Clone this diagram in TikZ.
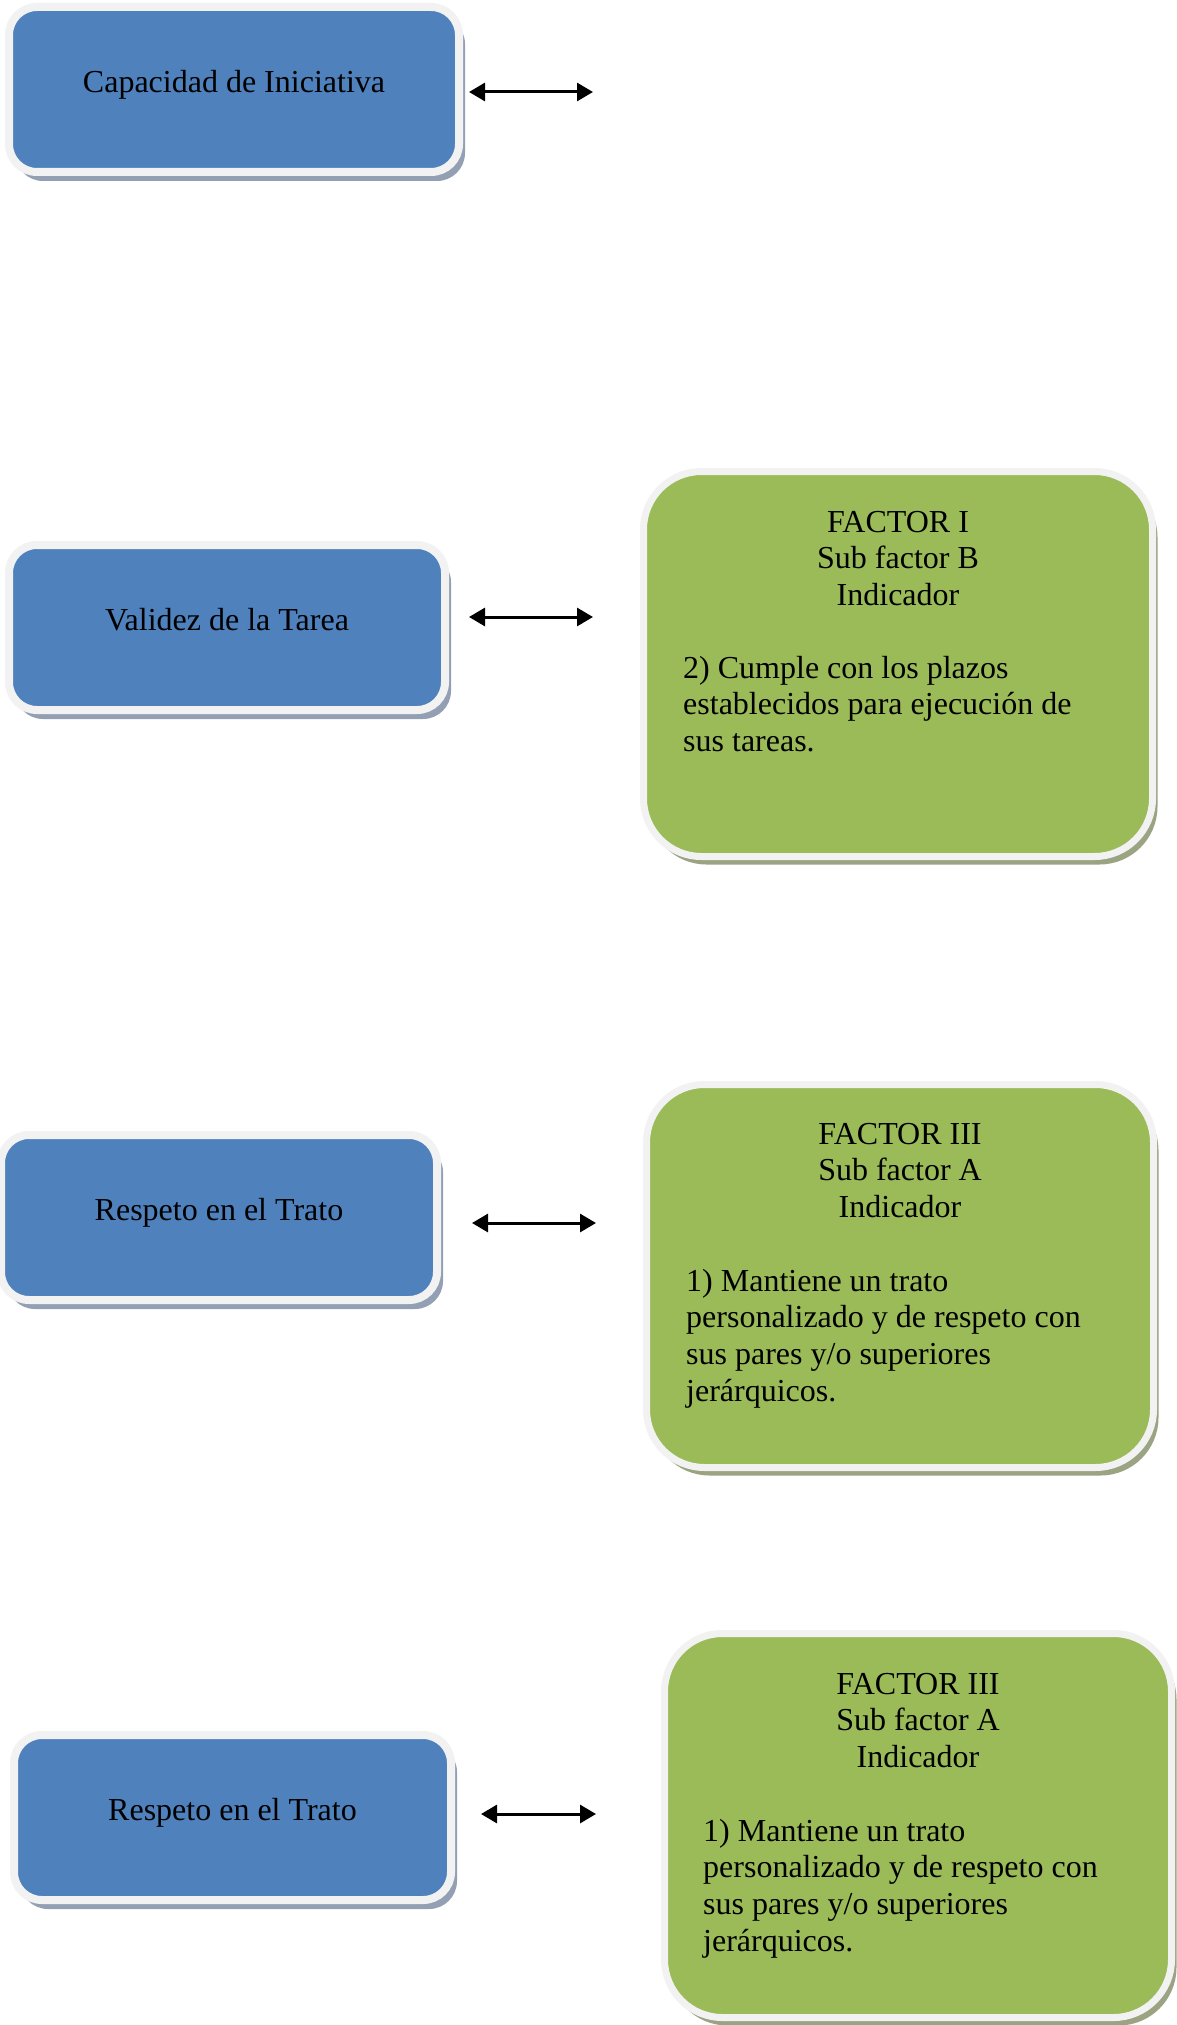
\documentclass[tikz,border=0pt]{standalone}
\usepackage{fontspec}
\setmainfont{Liberation Serif}
\usetikzlibrary{arrows.meta,shadows}
\definecolor{boxblue}{HTML}{4F81BD}
\definecolor{boxgreen}{HTML}{9BBB59}
\definecolor{rim}{HTML}{F2F2F2}
\definecolor{blueshade}{HTML}{93A0B4}
\definecolor{greenshade}{HTML}{9AA482}
\begin{document}
\begin{tikzpicture}[x=1pt,y=-1pt,
  bluebox/.style={rectangle, draw=rim, line width=8pt, fill=boxblue,
    rounded corners=28pt, inner sep=0pt, minimum height=165pt,
    drop shadow={shadow xshift=6pt, shadow yshift=-9pt, fill=blueshade, opacity=1}},
  greenbox/.style={rectangle, draw=rim, line width=7pt, fill=boxgreen,
    rounded corners=58pt, inner sep=0pt,
    drop shadow={shadow xshift=5pt, shadow yshift=-8pt, fill=greenshade, opacity=1}},
  lbl/.style={inner sep=0pt, font=\fontsize{32}{36.7}\selectfont},
  biarrow/.style={{Triangle[length=16pt,width=18pt]}-{Triangle[length=16pt,width=18pt]},
    line width=3pt}
]
% page frame
\useasboundingbox (0,0) rectangle (1177,2025);
\fill[white] (0,0) rectangle (1177,2025);

% left column: competences
\node[bluebox, minimum width=450pt] (b1) at (234,89.5) {};
\node[bluebox, minimum width=436pt] (b2) at (227,627.5) {};
\node[bluebox, minimum width=436pt] (b3) at (219,1217.5) {};
\node[bluebox, minimum width=437pt] (b4) at (232.5,1817.5) {};

\node[lbl, anchor=base] (t1) at ([yshift=-3pt]b1.center) {Capacidad de Iniciativa};
\node[lbl, anchor=base] (t2) at ([yshift=-3pt]b2.center) {Validez de la Tarea};
\node[lbl, anchor=base] (t3) at ([yshift=-3pt]b3.center) {Respeto en el Trato};
\node[lbl, anchor=base] (t4) at ([yshift=-3pt]b4.center) {Respeto en el Trato};

% right column: indicators
\node[greenbox, minimum width=509pt, minimum height=385pt] (g1) at (898,664) {};
\node[greenbox, minimum width=507pt, minimum height=383pt] (g2) at (900,1276) {};
\node[greenbox, minimum width=507pt, minimum height=384pt] (g3) at (918,1825.5) {};

\node[lbl, anchor=base] (g1h) at (898,532)
  {\begin{tabular}[t]{@{}c@{}}FACTOR I\\Sub factor B\\Indicador\end{tabular}};
\node[lbl, anchor=base west] (g1b) at (683,678)
  {\begin{tabular}[t]{@{}l@{}}2) Cumple con los plazos\\establecidos para ejecución de\\sus tareas.\end{tabular}};

\node[lbl, anchor=base] (g2h) at (900,1144)
  {\begin{tabular}[t]{@{}c@{}}FACTOR III\\Sub factor A\\Indicador\end{tabular}};
\node[lbl, anchor=base west] (g2b) at (686,1291)
  {\begin{tabular}[t]{@{}l@{}}1) Mantiene un trato\\personalizado y de respeto con\\sus pares y/o superiores\\jerárquicos.\end{tabular}};

\node[lbl, anchor=base] (g3h) at (918,1694)
  {\begin{tabular}[t]{@{}c@{}}FACTOR III\\Sub factor A\\Indicador\end{tabular}};
\node[lbl, anchor=base west] (g3b) at (703,1841)
  {\begin{tabular}[t]{@{}l@{}}1) Mantiene un trato\\personalizado y de respeto con\\sus pares y/o superiores\\jerárquicos.\end{tabular}};

% two-way links
\coordinate (a1w) at (469,92);   \coordinate (a1e) at (593,92);
\coordinate (a2w) at (469,617);  \coordinate (a2e) at (593,617);
\coordinate (a3w) at (472,1223); \coordinate (a3e) at (596,1223);
\coordinate (a4w) at (481,1814); \coordinate (a4e) at (596,1814);
\draw[biarrow] (a1w) -- (a1e);
\draw[biarrow] (a2w) -- (a2e);
\draw[biarrow] (a3w) -- (a3e);
\draw[biarrow] (a4w) -- (a4e);
\end{tikzpicture}
\end{document}
